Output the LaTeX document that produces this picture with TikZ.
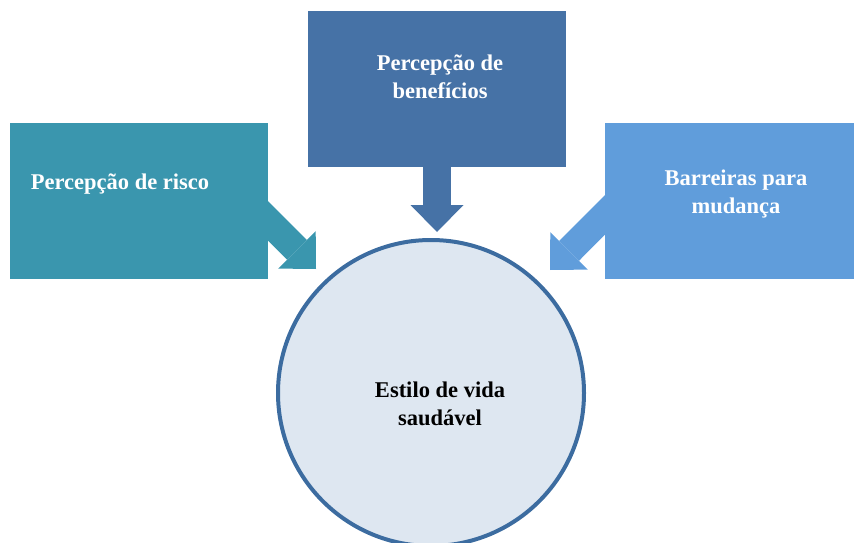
\documentclass[tikz,border=0pt]{standalone}
\usepackage{fontspec}
\setmainfont{Liberation Serif}
\usepackage{xcolor}
\usepackage{tikz}
\usetikzlibrary{arrows.meta, calc, backgrounds}

\definecolor{riskcol}{RGB}{58,150,174}
\definecolor{benefitcol}{RGB}{70,114,166}
\definecolor{barriercol}{RGB}{96,157,219}
\definecolor{lifefill}{RGB}{222,231,241}
\definecolor{lifedraw}{RGB}{60,108,160}

\tikzstyle{factor} = [rectangle, minimum width=258pt, minimum height=156pt, inner sep=0pt]
\tikzstyle{boxtext} = [text=white, font=\bfseries\fontsize{22.5}{27.5}\selectfont, align=center]
\tikzstyle{lifetext} = [text=black, font=\bfseries\fontsize{22.5}{27.5}\selectfont, align=center]
\tikzstyle{goal} = [circle, minimum size=306pt, draw=lifedraw, line width=4pt, fill=lifefill, inner sep=0pt]
\tikzstyle{bigarrow} = [line width=28pt, -{Triangle[width=53pt, length=27pt, line width=0pt]}]

\begin{document}
\begin{tikzpicture}[x=1pt, y=1pt]
\useasboundingbox (0,0) rectangle (854,542);

% Factor boxes
\node (risk) [factor, fill=riskcol, label={[boxtext, xshift=-19pt, yshift=17pt]center:Percepção de risco}] at (139,341) {};
\node (benefit) [factor, fill=benefitcol, label={[boxtext, xshift=3pt, yshift=12pt]center:{Percepção de\\benefícios}}] at (437,453) {};
\node (barrier) [factor, fill=barriercol, label={[boxtext, xshift=2pt, yshift=7pt]center:{Barreiras para\\mudança}}] at (734,341) {};

% Central circle
\node (life) [goal, label={[lifetext, xshift=9pt, yshift=-11pt]center:{Estilo de vida\\saudável}}] at (431,149) {};

% Arrow tips
\coordinate (riskTip) at (316,273);
\coordinate (benefitTip) at (437,310);
\coordinate (barrierTip) at (550,272);

% Arrows
\begin{scope}[on background layer]
\draw [bigarrow, riskcol] ([xshift=-20pt]risk.east) -- (riskTip);
\draw [bigarrow, benefitcol] (benefit) -- (benefitTip);
\draw [bigarrow, barriercol] ([shift={(20pt,6pt)}]barrier.west) -- (barrierTip);
\end{scope}

\end{tikzpicture}
\end{document}
